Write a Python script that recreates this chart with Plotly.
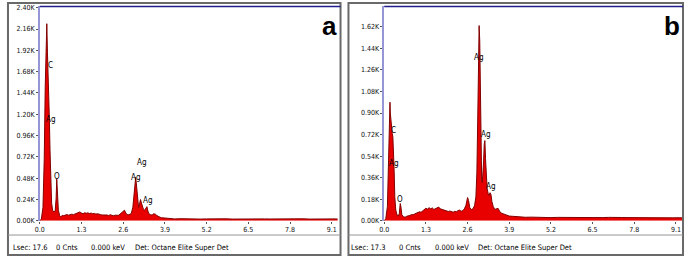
import plotly.graph_objects as go

# ---------------- data ----------------
energy_a = [0.00, 0.05, 0.10, 0.14, 0.17, 0.20, 0.22, 0.24, 0.26, 0.28, 0.30, 0.32, 0.34, 0.37, 0.40,
            0.44, 0.48, 0.51, 0.53, 0.55, 0.58, 0.62, 0.66, 0.70, 0.75, 0.80, 0.85, 0.90, 0.95,
            1.00, 1.05, 1.10, 1.15, 1.20, 1.25, 1.30, 1.35, 1.40, 1.45, 1.50, 1.55, 1.60, 1.65,
            1.70, 1.75, 1.80, 1.85, 1.90, 1.95, 2.00, 2.05, 2.10, 2.15, 2.20, 2.25, 2.30, 2.35,
            2.40, 2.45, 2.50, 2.55, 2.60, 2.64, 2.68, 2.72, 2.76, 2.80, 2.85, 2.90, 2.94, 2.97,
            2.99, 3.02, 3.05, 3.08, 3.11, 3.14, 3.17, 3.20, 3.23, 3.27, 3.31, 3.34, 3.37, 3.40,
            3.45, 3.50, 3.55, 3.60, 3.65, 3.70, 3.75, 3.80, 3.90, 4.00, 4.10, 4.20, 4.40, 4.60,
            4.80, 5.00, 5.20, 5.40, 5.60, 5.80, 6.00, 6.20, 6.40, 6.60, 6.80, 7.00, 7.20, 7.40,
            7.60, 7.80, 8.00, 8.20, 8.40, 8.60, 8.80, 9.00, 9.20, 9.30]
counts_a = [0, 20, 150, 700, 1500, 2100, 2220, 1900, 1720, 1500, 1150, 800, 450, 200, 120,
            100, 110, 250, 470, 300, 120, 60, 45, 62, 58, 66, 70, 64, 72,
            75, 70, 78, 82, 95, 100, 88, 80, 92, 85, 90, 82, 88, 80,
            84, 76, 80, 72, 70, 66, 68, 62, 66, 60, 70, 62, 58, 64,
            60, 62, 75, 95, 115, 120, 90, 70, 68, 72, 80, 150, 320, 470,
            490, 380, 200, 150, 190, 240, 200, 150, 130, 120, 150, 160, 110, 80,
            70, 65, 80, 75, 60, 45, 40, 35, 30, 25, 24, 22, 24, 21,
            23, 20, 22, 24, 21, 23, 20, 22, 21, 24, 20, 22, 21, 23,
            20, 22, 21, 23, 20, 22, 21, 23, 22, 20]

energy_b = [0.00, 0.05, 0.10, 0.13, 0.15, 0.17, 0.18, 0.19, 0.21, 0.23, 0.25, 0.27, 0.29, 0.31,
            0.33, 0.36, 0.40, 0.44, 0.47, 0.50, 0.52, 0.55, 0.60, 0.65, 0.70, 0.75, 0.80, 0.85,
            0.90, 0.95, 1.00, 1.05, 1.10, 1.15, 1.20, 1.25, 1.30, 1.35, 1.40, 1.45, 1.50, 1.55,
            1.60, 1.65, 1.70, 1.75, 1.80, 1.85, 1.90, 1.95, 2.00, 2.05, 2.10, 2.15, 2.20, 2.25,
            2.30, 2.35, 2.40, 2.45, 2.50, 2.55, 2.60, 2.63, 2.67, 2.72, 2.77, 2.82, 2.86, 2.89,
            2.92, 2.94, 2.96, 2.98, 3.00, 3.02, 3.04, 3.06, 3.08, 3.10, 3.12, 3.14, 3.16, 3.18,
            3.21, 3.24, 3.27, 3.30, 3.33, 3.36, 3.40, 3.45, 3.50, 3.55, 3.60, 3.65, 3.70, 3.75,
            3.80, 3.85, 3.90, 4.00, 4.10, 4.20, 4.40, 4.60, 4.80, 5.00, 5.20, 5.40, 5.60, 5.80,
            6.00, 6.20, 6.40, 6.60, 6.80, 7.00, 7.20, 7.40, 7.60, 7.80, 8.00, 8.20, 8.40, 8.60,
            8.80, 9.00, 9.20, 9.35]
counts_b = [0, 20, 120, 400, 800, 960, 990, 900, 820, 780, 730, 700, 600, 420,
            200, 90, 50, 40, 60, 145, 120, 50, 35, 30, 38, 40, 45, 52,
            50, 58, 62, 70, 75, 72, 85, 95, 105, 98, 110, 100, 108, 95,
            100, 110, 115, 100, 95, 90, 85, 80, 78, 82, 75, 72, 80, 76,
            85, 90, 80, 85, 100, 130, 195, 170, 110, 95, 100, 130, 200, 400,
            900, 1400, 1630, 1500, 1000, 600, 340, 320, 380, 500, 640, 670, 520, 350,
            270, 230, 210, 235, 220, 160, 120, 95, 100, 105, 80, 65, 60, 55,
            48, 45, 40, 38, 35, 32, 30, 31, 28, 30, 27, 29, 28, 30,
            27, 29, 26, 28, 27, 29, 26, 28, 27, 26, 28, 25, 27, 26,
            27, 25, 26, 25]

ticks_a = [0, 240, 480, 720, 960, 1200, 1440, 1680, 1920, 2160, 2400]
ticktext_a = ["0.00K", "0.24K", "0.48K", "0.72K", "0.96K", "1.20K", "1.44K", "1.68K", "1.92K", "2.16K", "2.40K"]
ticks_b = [0, 180, 360, 540, 720, 900, 1080, 1260, 1440, 1620]
ticktext_b = ["0.00K", "0.18K", "0.36K", "0.54K", "0.72K", "0.90K", "1.08K", "1.26K", "1.44K", "1.62K"]
xticks = [0.0, 1.3, 2.6, 3.9, 5.2, 6.5, 7.8, 9.1]
xticktext = ["0.0", "1.3", "2.6", "3.9", "5.2", "6.5", "7.8", "9.1"]

labels_a = [("C", 0.33, 1745), ("Ag", 0.36, 1145), ("O", 0.55, 500),
            ("Ag", 3.18, 657), ("Ag", 3.01, 492), ("Ag", 3.37, 228)]
labels_b = [("Ag", 2.97, 1360), ("Ag", 3.16, 717), ("Ag", 3.34, 285),
            ("C", 0.28, 752), ("Ag", 0.32, 480), ("O", 0.50, 182)]

status_a = [("Lsec: 17.6", 6), ("0 Cnts", 49), ("0.000 keV", 85), ("Det: Octane Elite Super Det", 129)]
status_b = [("Lsec: 17.3", 347), ("0 Cnts", 395), ("0.000 keV", 431), ("Det: Octane Elite Super Det", 474)]

# ---------------- figure ----------------
W, H = 685, 261
def px(x):
    return x / W
def py(y):
    return 1 - y / H

FONT = "DejaVu Sans Condensed, Liberation Sans Narrow, Arial Narrow, sans-serif"
FILL = "rgb(232,0,0)"
EDGE = "rgb(130,0,0)"

fig = go.Figure()
fig.add_trace(go.Scatter(x=energy_a, y=counts_a, mode="lines", fill="tozeroy",
                         fillcolor=FILL, line=dict(color=EDGE, width=1),
                         xaxis="x", yaxis="y", hoverinfo="skip"))
fig.add_trace(go.Scatter(x=energy_b, y=counts_b, mode="lines", fill="tozeroy",
                         fillcolor=FILL, line=dict(color=EDGE, width=1),
                         xaxis="x2", yaxis="y2", hoverinfo="skip"))

axis_common = dict(showgrid=False, zeroline=False, ticks="outside", ticklen=2,
                   tickcolor="#555", tickfont=dict(family=FONT, size=7, color="#111"))

ydom = [py(224), py(4.5)]
fig.update_layout(
    width=W, height=H, margin=dict(l=0, r=0, t=0, b=0),
    paper_bgcolor="white", plot_bgcolor="white", showlegend=False,
    xaxis=dict(domain=[px(35), px(335)], range=[0, 9.28], tickvals=xticks, ticktext=xticktext,
               anchor="y", showline=False, **axis_common),
    yaxis=dict(domain=ydom, range=[0, 2415], tickvals=ticks_a, ticktext=ticktext_a,
               anchor="x", showline=True, linecolor="rgb(150,150,215)", linewidth=1.5, **axis_common),
    xaxis2=dict(domain=[px(382), px(683)], range=[0, 9.32], tickvals=xticks, ticktext=xticktext,
                anchor="y2", showline=False, **axis_common),
    yaxis2=dict(domain=ydom, range=[0, 1790], tickvals=ticks_b, ticktext=ticktext_b,
                anchor="x2", showline=True, linecolor="rgb(150,150,215)", linewidth=1.5, **axis_common),
)

shapes = []
frame = "rgb(105,105,105)"
for (x0, x1, xp0) in [(3, 338, 35), (346, 683, 382)]:
    shapes.append(dict(type="rect", xref="paper", yref="paper", x0=px(x0), x1=px(x1),
                       y0=py(259), y1=py(1), line=dict(color=frame, width=2)))
    shapes.append(dict(type="line", xref="paper", yref="paper", x0=px(x0), x1=px(x1),
                       y0=py(238.5), y1=py(238.5), line=dict(color="rgb(150,150,150)", width=1)))
    shapes.append(dict(type="line", xref="paper", yref="paper", x0=px(xp0), x1=px(x1),
                       y0=py(4.5), y1=py(4.5), line=dict(color="rgb(30,30,140)", width=1.5)))
fig.update_layout(shapes=shapes)

ann = []
for (t, x, y) in labels_a:
    ann.append(dict(text=t, x=x, y=y, xref="x", yref="y", showarrow=False,
                    font=dict(family=FONT, size=8, color="black")))
for (t, x, y) in labels_b:
    ann.append(dict(text=t, x=x, y=y, xref="x2", yref="y2", showarrow=False,
                    font=dict(family=FONT, size=8, color="black")))
for (t, x) in status_a + status_b:
    ann.append(dict(text=t, x=px(x), y=py(251), xref="paper", yref="paper", showarrow=False,
                    xanchor="left", yanchor="middle",
                    font=dict(family=FONT, size=7.5, color="black")))
for (t, x) in [("a", 327), ("b", 672)]:
    ann.append(dict(text="<b>" + t + "</b>", x=px(x), y=py(25), xref="paper", yref="paper",
                    showarrow=False, xanchor="center", yanchor="middle",
                    font=dict(family="Liberation Sans, Arial, sans-serif", size=26, color="black")))
fig.update_layout(annotations=ann)

fig.write_html("out.html", config={"displayModeBar": False},
               post_script="document.body.style.margin='0';document.body.style.padding='0';"
                           "document.body.style.overflow='hidden';")
